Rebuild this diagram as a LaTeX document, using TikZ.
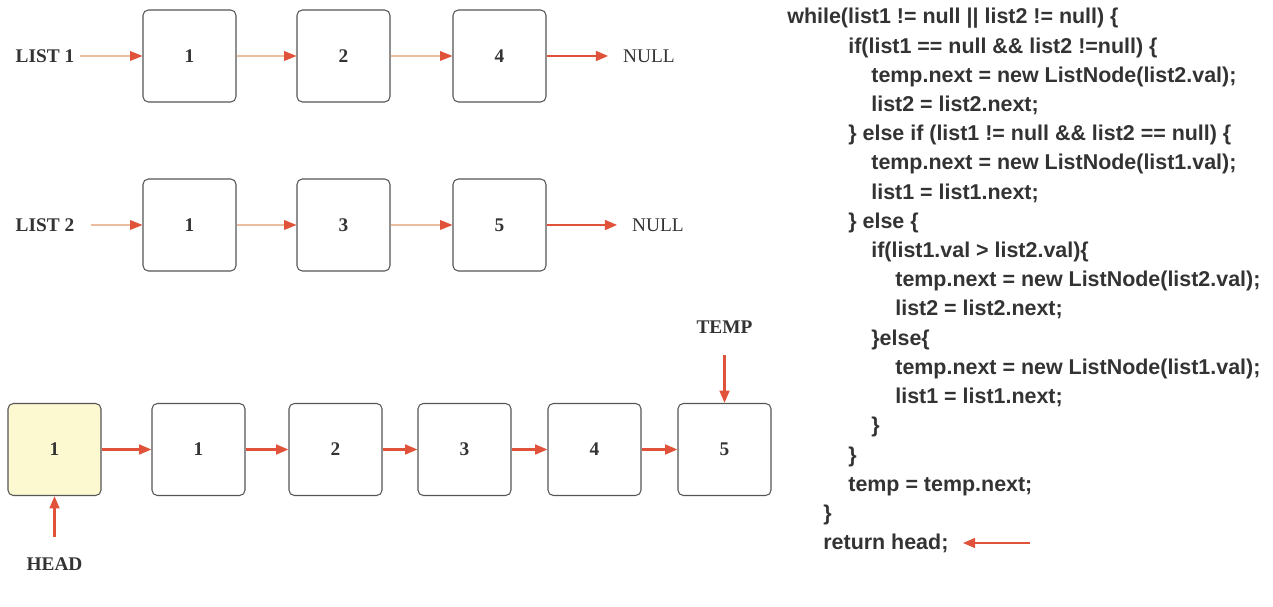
\documentclass[tikz,border=0pt]{standalone}
\usepackage{fontspec}
\setmainfont{Liberation Serif}
\newfontfamily\codefont{Liberation Sans}
\usetikzlibrary{arrows.meta}
\definecolor{arrowred}{HTML}{E0533A}
\definecolor{shaftpale}{HTML}{E9BFA0}
\definecolor{headfill}{HTML}{FCF8D0}
\definecolor{inkgray}{HTML}{333333}
\definecolor{boxline}{HTML}{555555}

\begin{document}
\begin{tikzpicture}[x=0.02cm,y=-0.02cm,
  cell/.style={draw=boxline,line width=0.6pt,rounded corners=3pt,minimum width=1.86cm,minimum height=1.84cm,font=\fontsize{11}{13}\selectfont\bfseries,text=inkgray},
  tag/.style={font=\fontsize{11}{13}\selectfont\bfseries,text=inkgray},
  nulltag/.style={font=\fontsize{11}{13}\selectfont,text=inkgray},
  thinarrow/.style={draw=shaftpale,line width=0.6pt,-{Triangle[length=7pt,width=5.5pt,color=arrowred]}},
  thickarrow/.style={draw=arrowred,line width=1.4pt,-{Triangle[length=7pt,width=5.5pt]}},
  codeline/.style={anchor=base west,inner sep=0pt,font=\codefont\fontsize{12.2}{14}\selectfont\bfseries,text=inkgray}]
  \useasboundingbox (0,0) rectangle (1273,607);

  % list 1
  \node[tag] (list1) at (45,56) {LIST 1};
  \node[cell] (a1) at (189.5,56) {1};
  \node[cell] (a2) at (343.5,56) {2};
  \node[cell] (a3) at (499.5,56) {4};
  \node[nulltag] (null1) at (649,56) {NULL};

  \draw[thinarrow] (list1) -- (a1);
  \draw[thinarrow] (a1) -- (a2);
  \draw[thinarrow] (a2) -- (a3);
  \draw[thickarrow,shorten >=5pt] (a3) -- (null1);

  % list 2
  \node[tag] (list2) at (45,225) {LIST 2};
  \node[cell] (b1) at (189.5,225) {1};
  \node[cell] (b2) at (343.5,225) {3};
  \node[cell] (b3) at (499.5,225) {5};
  \node[nulltag] (null2) at (658,225) {NULL};

  \draw[thinarrow,shorten <=6pt] (list2) -- (b1);
  \draw[thinarrow] (b1) -- (b2);
  \draw[thinarrow] (b2) -- (b3);
  \draw[thickarrow,shorten >=5pt] (b3) -- (null2);

  % merged list
  \node[cell,fill=headfill] (r1) at (54.5,449.5) {1};
  \node[cell] (r2) at (198.5,449.5) {1};
  \node[cell] (r3) at (335.5,449.5) {2};
  \node[cell] (r4) at (464.5,449.5) {3};
  \node[cell] (r5) at (594.5,449.5) {4};
  \node[cell] (r6) at (724.5,449.5) {5};

  \draw[thickarrow] (r1) -- (r2);
  \draw[thickarrow] (r2) -- (r3);
  \draw[thickarrow] (r3) -- (r4);
  \draw[thickarrow] (r4) -- (r5);
  \draw[thickarrow] (r5) -- (r6);

  \node[tag] (temp) at (724.5,327) {TEMP};
  \node[tag] (head) at (54.5,564) {HEAD};
  \draw[thickarrow,shorten <=9pt] (temp) -- (r6);
  \draw[thickarrow,shorten <=8pt] (head) -- (r1);

  % code
  \node[codeline] (c1) at (787,24) {while(list1 != null || list2 != null) \{};
  \node[codeline] (c2) at (848,53.2) {if(list1 == null \&\& list2 !=null) \{};
  \node[codeline] (c3) at (871,82.4) {temp.next = new ListNode(list2.val);};
  \node[codeline] (c4) at (871,111.6) {list2 = list2.next;};
  \node[codeline] (c5) at (848,140.8) {\} else if (list1 != null \&\& list2 == null) \{};
  \node[codeline] (c6) at (871,170) {temp.next = new ListNode(list1.val);};
  \node[codeline] (c7) at (871,199.2) {list1 = list1.next;};
  \node[codeline] (c8) at (848,228.4) {\} else \{};
  \node[codeline] (c9) at (871,257.6) {if(list1.val > list2.val)\{};
  \node[codeline] (c10) at (895,286.8) {temp.next = new ListNode(list2.val);};
  \node[codeline] (c11) at (895,316) {list2 = list2.next;};
  \node[codeline] (c12) at (871,345.2) {\}else\{};
  \node[codeline] (c13) at (895,374.4) {temp.next = new ListNode(list1.val);};
  \node[codeline] (c14) at (895,403.6) {list1 = list1.next;};
  \node[codeline] (c15) at (871,432.8) {\}};
  \node[codeline] (c16) at (848,462) {\}};
  \node[codeline] (c17) at (848,491.2) {temp = temp.next;};
  \node[codeline] (c18) at (823,520.4) {\}};
  \node[codeline] (c19) at (823,549.6) {return head;};

  \coordinate (retTail) at (1030,543);
  \draw[thickarrow,shorten >=8pt] (retTail) -- (c19.east |- retTail);
\end{tikzpicture}
\end{document}
